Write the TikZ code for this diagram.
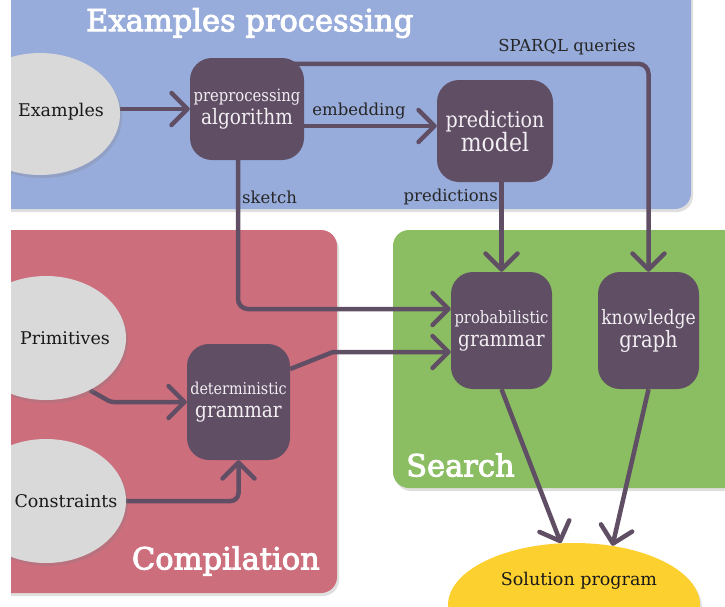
\documentclass[tikz,border=0pt]{standalone}
\usepackage{fontspec}
\usepackage{graphicx}
\setmainfont{DejaVu Serif}
\newfontfamily\titlefont{DejaVu Serif}[FakeBold=3]
\usetikzlibrary{arrows.meta,shapes.geometric,shadows}
\definecolor{bluep}{HTML}{97ACDB}
\definecolor{redp}{HTML}{CD6E7D}
\definecolor{greenp}{HTML}{8BBD62}
\definecolor{grayell}{HTML}{D9D9D9}
\definecolor{darkbox}{HTML}{5F4E64}
\definecolor{yellowell}{HTML}{FCD02F}
\definecolor{boxtext}{HTML}{F2EEF2}
\pgfdeclarelayer{back}
\pgfdeclarelayer{mid}
\pgfsetlayers{back,mid,main}
\newcommand{\tallt}[1]{\scalebox{1}[1.15]{#1}}
\newcommand{\smalltxt}{\fontsize{14.8}{16}\selectfont}
\newcommand{\bigtxt}{\fontsize{18.5}{20}\selectfont}
\tikzset{
  panel/.style={rounded corners=16pt, drop shadow={opacity=0.25, shadow xshift=2pt, shadow yshift=-3pt}},
  ell/.style={ellipse, fill=grayell, inner sep=0pt, drop shadow={opacity=0.25, shadow xshift=2pt, shadow yshift=-3pt}},
  box/.style={rectangle, rounded corners=22pt, fill=darkbox, text=boxtext, inner sep=0pt, align=center, font=\fontsize{18.5}{23}\selectfont},
  arr/.style={draw=darkbox, line width=4.5pt, -{Straight Barb[length=16pt,width=32pt,round]}},
  lbl/.style={font=\fontsize{16.5}{18}\selectfont, text=black!85, inner sep=0pt},
  elltxt/.style={font=\fontsize{17.5}{19}\selectfont, text=black!90, inner sep=0pt},
  title/.style={font=\titlefont\fontsize{30.5}{33}\selectfont, text=white, inner sep=0pt}
}
\begin{document}
\begin{tikzpicture}[x=1pt,y=-1pt]
\useasboundingbox (0,0) rectangle (725,606);
\begin{pgfonlayer}{back}
\begin{scope}
\clip (11,0) rectangle (725,606);
\fill[bluep, panel] (-30,-30) rectangle (691,209);
\fill[redp, panel] (-30,230) rectangle (337,593);
\fill[greenp, panel] (393,230) rectangle (760,488);
\end{scope}
\end{pgfonlayer}
\clip (11,0) rectangle (725,606);
% titles
\node[title, anchor=west] (t1) at (86,23) {Examples processing};
\node[title, anchor=east] (t2) at (320,561) {Compilation};
\node[title, anchor=west] (t3) at (406,465) {Search};
% ellipses
\node[ell, minimum width=160pt, minimum height=122pt] (ex) at (40,114) {};
\node[elltxt] (exl) at (61,112) {Examples};
\node[ell, minimum width=160pt, minimum height=124pt] (prim) at (46,338) {};
\node[elltxt] (priml) at (65,338) {Primitives};
\node[ell, minimum width=160pt, minimum height=124pt] (cons) at (46,501) {};
\node[elltxt] (consl) at (66,501) {Constraints};
\node[ell, fill=yellowell, minimum width=252pt, minimum height=124pt] (sol) at (574,605) {};
\node[elltxt] (soll) at (579,581) {Solution program};
% boxes
\node[box, minimum width=114pt, minimum height=102pt] (pre) at (247,109)
  {{\smalltxt\tallt{preprocessing}}\\{\bigtxt\tallt{algorithm}}};
\node[box, minimum width=116pt, minimum height=102pt, font=\fontsize{19}{24}\selectfont] (pred) at (495,131)
  {{\fontsize{19}{21}\selectfont\tallt{prediction}}\\{\fontsize{22}{24}\selectfont\tallt{model}}};
\node[box, minimum width=101pt, minimum height=117pt] (pg) at (501.5,330.5)
  {{\smalltxt\tallt{probabilistic}}\\{\bigtxt\tallt{grammar}}};
\node[box, minimum width=101pt, minimum height=117pt] (kg) at (648.5,330.5)
  {{\fontsize{17.2}{19}\selectfont\tallt{knowledge}}\\{\fontsize{19.5}{21}\selectfont\tallt{graph}}};
\node[box, minimum width=103pt, minimum height=116pt] (det) at (238.5,402)
  {{\fontsize{14.3}{16}\selectfont\tallt{deterministic}}\\{\bigtxt\tallt{grammar}}};
% labels
\node[lbl] (lemb) at (359,111) {embedding};
\node[lbl, anchor=west] (lsk) at (242,197) {sketch};
\node[lbl, anchor=east] (lpr) at (498,197) {predictions};
\node[lbl] (lsp) at (567,47) {SPARQL queries};
% connectors
\coordinate (bend) at (333,352);
\begin{pgfonlayer}{mid}
\draw[arr] (ex.east |- pre.west) -- (pre.west);
\draw[arr] ([yshift=-17pt]pre.east) -- ([yshift=-17pt]pre.east -| pred.west);
\draw[arr, rounded corners=10pt] ([yshift=-6pt]pre.north) -| (kg.north);
\draw[arr, rounded corners=10pt] ([xshift=-9pt]pre.south) |- ([yshift=21.5pt]pg.west);
\draw[arr] (pg.north |- pred.south) -- (pg.north);
\draw[arr] ([yshift=33pt]det.east) -- (bend) -- (bend -| pg.west);
\draw[arr, rounded corners=3pt] (prim.-50) -- ([xshift=-76pt]det.west) -- (det.west);
\draw[arr, rounded corners=8pt] (cons.east) -| (det.south);
\draw[arr] (pg.south) -- (sol.102.7);
\draw[arr] (kg.south) -- (sol.57);
\end{pgfonlayer}
\end{tikzpicture}
\end{document}
